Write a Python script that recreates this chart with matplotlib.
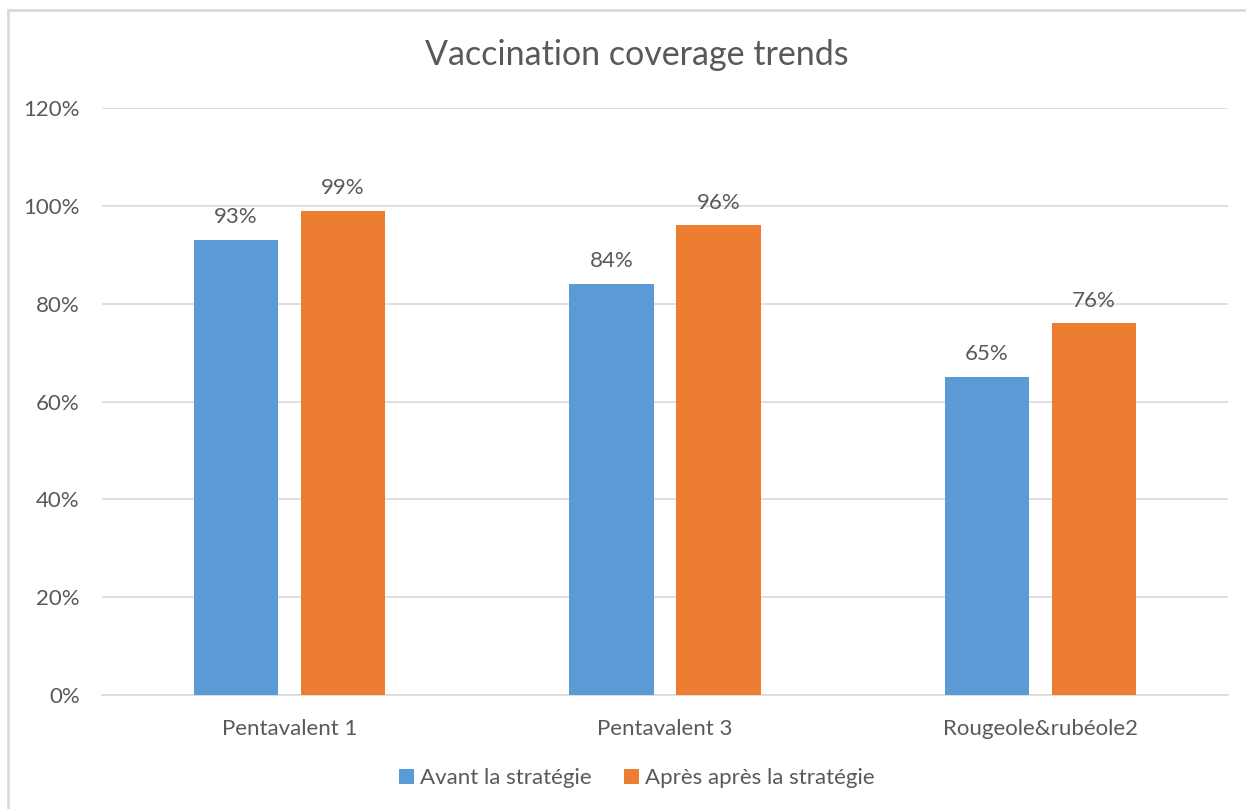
import matplotlib
matplotlib.use("Agg")
import matplotlib.pyplot as plt
from matplotlib.patches import Rectangle
import numpy as np

# data
categories = ["Pentavalent 1", "Pentavalent 3", "Rougeole&rubéole2"]
avant = [0.93, 0.84, 0.65]
apres = [0.99, 0.96, 0.76]
series_names = ["Avant la stratégie", "Après après la stratégie"]
yticks = [0, 0.2, 0.4, 0.6, 0.8, 1.0, 1.2]

BLUE = "#5B9BD5"
ORANGE = "#ED7D31"
TEXT = "#595959"
GRID = "#D9D9D9"

plt.rcParams["font.family"] = ["Lato", "DejaVu Sans"]

W, H = 1246, 809
fig = plt.figure(figsize=(W / 100, H / 100), dpi=100)
ax = fig.add_axes([102 / W, 1 - 695 / H, (1228 - 102) / W, (695 - 108) / H])

# outer chart frame (only left/top visible in the crop)
fig.patches.append(Rectangle((8 / W, -0.05), 1.1, 1 - 10 / H + 0.05,
                             transform=fig.transFigure, fill=False,
                             edgecolor=GRID, linewidth=2))

x = np.arange(len(categories))
width = 0.224
off = 0.1425
b1 = ax.bar(x - off, avant, width, color=BLUE, label=series_names[0], zorder=3)
b2 = ax.bar(x + off, apres, width, color=ORANGE, label=series_names[1], zorder=3)

for bars, vals in [(b1, avant), (b2, apres)]:
    for rect, v in zip(bars, vals):
        ax.text(rect.get_x() + rect.get_width() / 2, v + 0.026, f"{round(v * 100)}%",
                ha="center", va="bottom", fontsize=16, color=TEXT)

ax.set_xlim(-0.5, 2.5)
ax.set_ylim(0, 1.2)
ax.set_yticks(yticks)
ax.set_yticklabels([f"{round(t * 100)}%" for t in yticks])
ax.set_xticks(x)
ax.set_xticklabels(categories)
ax.tick_params(axis="both", length=0, labelsize=16, labelcolor=TEXT)
ax.tick_params(axis="y", pad=16)
ax.tick_params(axis="x", pad=17)
ax.grid(axis="y", color=GRID, linewidth=1.2, zorder=0)
for s in ["top", "right", "left"]:
    ax.spines[s].set_visible(False)
ax.spines["bottom"].set_color(GRID)
ax.spines["bottom"].set_linewidth(1.2)

fig.text(637 / W, 1 - 55 / H, "Vaccination coverage trends", ha="center", va="center",
         fontsize=24.5, color=TEXT)

fig.legend(handles=[b1, b2], loc="center", bbox_to_anchor=(637 / W, 1 - 778 / H),
           ncol=2, frameon=False, fontsize=16, labelcolor=TEXT,
           handlelength=0.65, handleheight=0.65, handletextpad=0.3, columnspacing=1.45)

fig.savefig("out.png", dpi=100, facecolor="white")
